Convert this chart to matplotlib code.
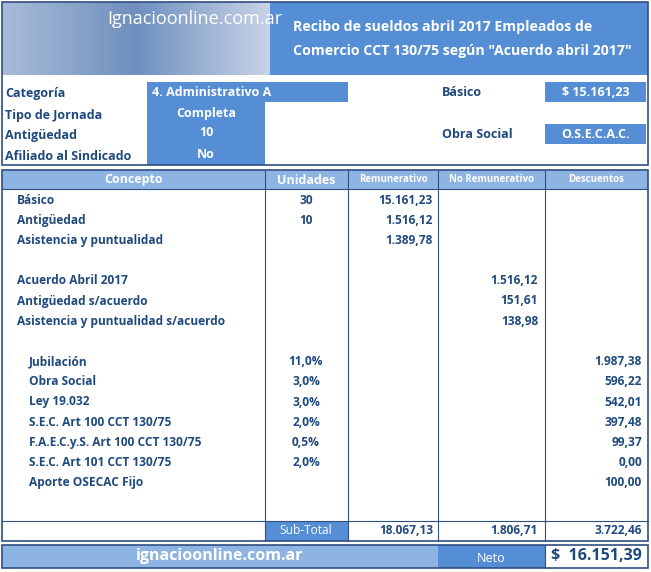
import matplotlib
matplotlib.use("Agg")
import matplotlib.pyplot as plt
from matplotlib.patches import Rectangle
import numpy as np

title_lines = ["Recibo de sueldos abril 2017 Empleados de", "Comercio CCT 130/75 según \"Acuerdo abril 2017\""]
info_labels = ["Categoría", "Tipo de Jornada", "Antigüedad", "Afiliado al Sindicado"]
info_values = ["4. Administrativo A", "Completa", "10", "No"]
basico = "$ 15.161,23"
obra_social = "O.S.E.C.A.C."
headers = ["Concepto", "Unidades", "Remunerativo", "No Remunerativo", "Descuentos"]
conceptos = ["Básico", "Antigüedad", "Asistencia y puntualidad", "",
             "Acuerdo Abril 2017", "Antigüedad s/acuerdo", "Asistencia y puntualidad s/acuerdo", "",
             "Jubilación", "Obra Social", "Ley 19.032", "S.E.C. Art 100 CCT 130/75",
             "F.A.E.C.y.S. Art 100 CCT 130/75", "S.E.C. Art 101 CCT 130/75", "Aporte OSECAC Fijo"]
unidades = ["30", "10", "", "", "", "", "", "", "11,0%", "3,0%", "3,0%", "2,0%", "0,5%", "2,0%", ""]
remunerativo = ["15.161,23", "1.516,12", "1.389,78", "", "", "", "", "", "", "", "", "", "", "", ""]
no_remunerativo = ["", "", "", "", "1.516,12", "151,61", "138,98", "", "", "", "", "", "", "", ""]
descuentos = ["", "", "", "", "", "", "", "", "1.987,38", "596,22", "542,01", "397,48", "99,37", "0,00", "100,00"]
subtotales = ["18.067,13", "1.806,71", "3.722,46"]
neto = "$  16.151,39"
sitio = "ignacioonline.com.ar"

W, H = 651, 572
fig = plt.figure(figsize=(W/100, H/100), dpi=100)
ax = fig.add_axes([0, 0, 1, 1])
ax.set_xlim(0, W); ax.set_ylim(H, 0); ax.axis("off")
plt.rcParams["font.family"] = ["Open Sans", "DejaVu Sans"]
DARK = "#1F497D"; MID = "#558ED5"; LIGHT = "#8DB4E2"; LINE = "#2F4F7F"
FS = 8.6

def rect(x0, y0, x1, y1, fc, ec="none", lw=1, z=1):
    ax.add_patch(Rectangle((x0, y0), x1-x0, y1-y0, facecolor=fc, edgecolor=ec, lw=lw, zorder=z))

grad = np.linspace(0, 1, 270)[None, :] * np.ones((73, 1))
ax.imshow(grad, extent=(2, 270, 75, 2), cmap=matplotlib.colors.LinearSegmentedColormap.from_list("g", ["#A8BCD8", "#6F8FBF", "#C7D3E6"]), aspect="auto", zorder=1)
ax.text(195, 19, "Ignacioonline.com.ar", color="white", fontsize=13, ha="center", va="center", zorder=2)
rect(270, 2, 648, 75, MID)
ax.text(293, 27, title_lines[0], color="white", fontsize=10.2, fontweight="bold", va="center")
ax.text(293, 51, title_lines[1], color="white", fontsize=10.2, fontweight="bold", va="center")
rect(2, 2, 648, 165, "none", LINE, 1.2, 5)

ys = [94, 115, 135, 156]
rect(147, 82, 348, 102, MID)
rect(147, 102, 265, 165, MID)
for i, (l, v) in enumerate(zip(info_labels, info_values)):
    ax.text(5, ys[i], l, color=DARK, fontsize=FS+0.4, fontweight="bold", va="center")
    if i == 0:
        ax.text(152, ys[i]-2, v, color="white", fontsize=FS+0.4, fontweight="bold", va="center")
    else:
        ax.text(206, ys[i]-2, v, color="white", fontsize=FS+0.4, fontweight="bold", va="center", ha="center")
ax.text(442, 92, "Básico", color=DARK, fontsize=FS+0.4, fontweight="bold", va="center")
rect(545, 82, 646, 102, MID)
ax.text(596, 92, basico, color="white", fontsize=FS+0.4, fontweight="bold", va="center", ha="center")
ax.text(442, 134, "Obra Social", color=DARK, fontsize=FS+0.4, fontweight="bold", va="center")
rect(545, 124, 646, 144, MID)
ax.text(596, 134, obra_social, color="white", fontsize=FS+0.4, fontweight="bold", va="center", ha="center")

cols = [2, 265, 348, 438, 545, 648]
rect(2, 170, 648, 189, LIGHT)
hx = [(cols[i]+cols[i+1])/2 for i in range(5)]
hs = [FS+0.4, FS+0.4, 7, 7, 7]
for i, h in enumerate(headers):
    ax.text(hx[i], 180, h, color="white", fontsize=hs[i], fontweight="bold", ha="center", va="center")
for x in cols[1:-1]:
    ax.plot([x, x], [170, 541], color=LINE, lw=0.8, zorder=4)
rect(2, 170, 648, 541, "none", LINE, 1.2, 5)
ax.plot([2, 648], [521, 521], color=LINE, lw=0.8, zorder=4)
ax.plot([2, 648], [189, 189], color=LINE, lw=0.8, zorder=4)
for i in range(len(conceptos)):
    y = 200 + 20.2*i
    cx = 29 if i >= 8 else 17
    ax.text(cx, y, conceptos[i], color=DARK, fontsize=FS, fontweight="bold", va="center")
    ax.text(306, y, unidades[i], color=DARK, fontsize=FS, fontweight="bold", va="center", ha="center")
    ax.text(433, y, remunerativo[i], color=DARK, fontsize=FS, fontweight="bold", va="center", ha="right")
    ax.text(538, y, no_remunerativo[i], color=DARK, fontsize=FS, fontweight="bold", va="center", ha="right")
    ax.text(642, y, descuentos[i], color=DARK, fontsize=FS, fontweight="bold", va="center", ha="right")
rect(265, 521, 348, 541, MID)
ax.text(306, 531, "Sub-Total", color="white", fontsize=FS, va="center", ha="center")
for x, v in zip([433, 538, 642], subtotales):
    ax.text(x, 531, v, color=DARK, fontsize=FS, fontweight="bold", va="center", ha="right")

rect(2, 545, 438, 568, LIGHT)
rect(438, 545, 545, 568, MID)
rect(2, 545, 648, 568, "none", LINE, 1.2, 5)
ax.plot([545, 545], [545, 568], color=LINE, lw=0.8, zorder=4)
ax.text(220, 556, sitio, color="white", fontsize=11.5, fontweight="bold", va="center", ha="center")
ax.text(491, 558, "Neto", color="white", fontsize=FS+0.4, va="center", ha="center")
ax.text(596, 556, neto, color=DARK, fontsize=11.5, fontweight="bold", va="center", ha="center")

fig.savefig("out.png", dpi=100)
